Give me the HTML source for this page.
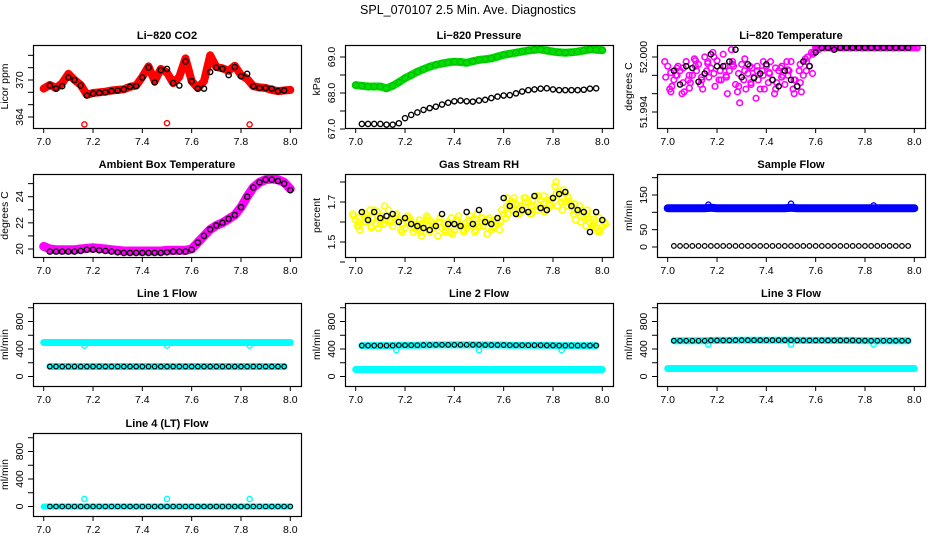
<!DOCTYPE html>
<html><head><meta charset="utf-8">
<style>
html,body{margin:0;padding:0;background:#fff;}
svg{display:block;font-family:"Liberation Sans",sans-serif;}
</style></head>
<body>
<svg id="chart" width="936" height="540" viewBox="0 0 936 540">
<text x="468" y="14" text-anchor="middle" font-size="12.5">SPL_070107  2.5 Min. Ave. Diagnostics</text>
</svg>
<script>
// shared x grid: 7.0 .. 8.0 step 0.025 (41 points)
const xTicks = [7.0, 7.2, 7.4, 7.6, 7.8, 8.0];
const xTickLabels = ["7.0", "7.2", "7.4", "7.6", "7.8", "8.0"];
const xStart = 7.0, xStep = 0.025;
const outlierX = [7.165, 7.5, 7.835];

// Li-820 CO2
const co2Red = [368.6,369.2,368.7,369.5,371.0,370.0,369.2,367.6,367.9,368.0,368.1,368.3,368.4,368.5,368.9,369.1,370.5,372.2,369.8,371.8,371.2,369.5,370.5,373.5,369.8,368.7,369.8,374.0,372.1,371.9,371.5,372.3,370.8,370.2,369.0,368.8,368.7,368.4,368.2,368.3,368.4];
const co2Black = [null,369.1,368.6,369.0,370.4,370.0,369.1,367.5,367.8,367.9,368.0,368.2,368.3,368.5,368.9,369.0,370.4,372.0,369.6,371.6,371.8,369.5,369.1,373.0,369.8,368.6,368.6,371.3,372.0,371.8,370.8,372.1,370.6,371.0,369.0,368.7,368.7,368.6,368.2,368.3,null];
const co2Outliers = [362.8, 363.0, 362.8];

// Li-820 Pressure
const presGreen = [68.22,68.20,68.18,68.18,68.18,68.13,68.20,68.30,68.41,68.50,68.59,68.66,68.73,68.78,68.82,68.85,68.87,68.86,68.84,68.88,68.92,68.94,68.96,69.01,69.06,69.09,69.12,69.15,69.18,69.20,69.21,69.18,69.15,69.13,69.12,69.13,69.15,69.18,69.21,69.20,69.19];
const presBlack = [null,67.14,67.14,67.14,67.14,67.12,67.12,67.16,67.30,67.39,67.46,67.53,67.58,67.62,67.68,67.73,67.77,67.79,67.77,67.76,67.79,67.81,67.86,67.90,67.93,67.94,67.99,68.04,68.08,68.10,68.12,68.13,68.10,68.08,68.08,68.08,68.08,68.09,68.12,68.13,null];

// Li-820 Temperature
const tempMagA = [51.9990,51.9975,51.9985,51.9995,51.9980,51.9992,52.0000,51.9988,51.9996,52.0003,51.9985,51.9970,51.9992,51.9982,51.9978,51.9965,51.9990,51.9975,51.9985,51.9970,51.9995,51.9968,51.9980,51.9990,52.0010,52.0010,52.0010,52.0010,52.0010,52.0010,52.0010,52.0010,52.0010,52.0010,52.0010,52.0010,52.0010,52.0010,52.0010,52.0010,52.0010];
const tempMagB = [51.9965,51.9980,51.9960,51.9975,51.9998,51.9970,51.9985,52.0005,51.9975,51.9990,52.0008,51.9962,51.9975,51.9990,51.9955,51.9985,51.9972,51.9960,51.9988,51.9995,51.9965,51.9985,51.9998,52.0005,52.0010,52.0010,52.0010,52.0010,52.0010,52.0010,52.0010,52.0010,52.0010,52.0010,52.0010,52.0010,52.0010,52.0010,52.0010,52.0010,52.0010];
const tempMagC = [51.9978,51.9968,51.9990,51.9962,51.9972,51.9985,51.9965,51.9978,51.9968,51.9975,51.9960,51.9990,51.9950,51.9965,51.9988,51.9975,51.9965,51.9995,51.9972,51.9980,51.9985,51.9975,51.9962,52.0000,52.0005,52.0010,52.0010,52.0010,52.0010,52.0010,52.0010,52.0010,52.0010,52.0010,52.0010,52.0010,52.0010,52.0010,52.0010,52.0010,52.0010];
const tempMagD = [51.9983,51.9988,51.9972,51.9980,51.9990,51.9978,51.9993,51.9982,51.9985,51.9980,51.9992,51.9982,51.9985,51.9972,51.9985,51.9980,51.9983,51.9988,51.9978,51.9986,51.9975,51.9992,51.9985,51.9982,52.0008,52.0010,52.0010,52.0010,52.0010,52.0010,52.0010,52.0010,52.0010,52.0010,52.0010,52.0010,52.0010,52.0010,52.0010,52.0010,52.0010];
const tempMagE = [51.9995,51.9962,51.9980,51.9988,51.9966,51.9996,51.9975,51.9995,52.0000,51.9985,51.9978,51.9995,51.9968,51.9998,51.9970,51.9990,51.9995,51.9982,51.9965,51.9990,51.9980,51.9960,51.9972,51.9995,52.0003,52.0010,52.0010,52.0010,52.0010,52.0010,52.0010,52.0010,52.0010,52.0010,52.0010,52.0010,52.0010,52.0010,52.0010,52.0010,52.0010];
const tempBlack = [null,51.9985,51.9970,51.9990,51.9988,51.9973,51.9982,52.0003,51.9990,51.9990,51.9995,52.0008,51.9978,51.9992,51.9977,51.9982,51.9992,51.9975,51.9968,51.9985,51.9975,51.9968,51.9995,51.9990,52.0005,52.0010,52.0010,52.0008,52.0010,52.0010,52.0010,52.0010,52.0010,52.0010,52.0010,52.0010,52.0010,52.0010,52.0010,52.0010,null];

// Ambient box temperature
const ambMag = [20.2,20.0,19.95,19.95,19.95,19.95,20.0,20.05,20.1,20.05,20.0,19.95,19.9,19.85,19.85,19.85,19.85,19.85,19.85,19.85,19.9,19.9,19.9,19.9,20.0,20.5,21.0,21.5,21.8,22.0,22.3,22.6,23.2,24.0,24.7,25.1,25.3,25.35,25.3,25.1,24.6];
const ambBlack = [null,19.8,19.8,19.8,19.8,19.8,19.85,19.95,19.95,19.9,19.85,19.8,19.75,19.7,19.7,19.7,19.7,19.7,19.7,19.7,19.75,19.8,19.8,19.8,19.95,20.5,21.0,21.5,21.8,22.0,22.3,22.6,23.2,24.0,24.7,25.1,25.3,25.3,25.2,25.0,24.5];

// Gas stream RH
const rhYelA = [1.61,1.64,1.62,1.66,1.60,1.63,1.58,1.61,1.57,1.60,1.56,1.59,1.55,1.58,1.57,1.60,1.56,1.59,1.57,1.61,1.58,1.60,1.56,1.59,1.64,1.67,1.69,1.66,1.70,1.68,1.71,1.66,1.72,1.75,1.70,1.68,1.65,1.62,1.60,1.57,1.58];
const rhYelB = [1.58,1.60,1.66,1.59,1.63,1.66,1.62,1.56,1.62,1.55,1.61,1.57,1.60,1.53,1.59,1.55,1.60,1.58,1.61,1.55,1.62,1.54,1.60,1.56,1.62,1.70,1.64,1.72,1.64,1.73,1.67,1.69,1.78,1.70,1.73,1.64,1.68,1.58,1.64,1.55,1.60];
const rhYelC = [1.63,1.56,1.60,1.62,1.57,1.68,1.60,1.64,1.59,1.62,1.58,1.53,1.62,1.57,1.62,1.58,1.54,1.63,1.59,1.58,1.64,1.58,1.62,1.61,1.66,1.64,1.72,1.68,1.66,1.71,1.73,1.65,1.71,1.68,1.76,1.70,1.61,1.66,1.62,1.60,1.56];
const rhYelD = [1.60,1.62,1.58,1.63,1.61,1.60,1.63,1.59,1.60,1.58,1.59,1.61,1.58,1.60,1.55,1.62,1.58,1.56,1.60,1.59,1.60,1.57,1.58,1.60,1.68,1.66,1.67,1.70,1.68,1.66,1.69,1.71,1.74,1.72,1.68,1.66,1.63,1.64,1.58,1.62,1.59];
const rhYelE = [1.64,1.58,1.64,1.57,1.65,1.59,1.61,1.63,1.55,1.63,1.57,1.55,1.63,1.59,1.60,1.56,1.62,1.61,1.55,1.63,1.56,1.62,1.61,1.57,1.60,1.72,1.70,1.64,1.72,1.64,1.66,1.73,1.68,1.80,1.66,1.72,1.69,1.60,1.66,1.59,1.55];
const rhBlack = [null,1.65,1.61,1.65,1.62,1.63,1.64,1.60,1.62,1.59,1.58,1.57,1.56,1.58,1.64,1.59,1.59,1.58,1.65,1.59,1.66,1.60,1.59,1.62,1.72,1.68,1.64,1.66,1.65,1.73,1.67,1.66,1.72,1.74,1.75,1.68,1.66,1.65,1.55,1.65,1.61];

// Sample flow
const sfBlue = [112,112,112,112,112,112,112,113,112,112,112,112,112,112,112,112,112,112,112,112,113,112,112,112,112,112,112,112,112,112,112,112,112,112,112,112,112,112,112,112,112];
const sfBlack = [null,3,3,3,3,3,3,3,3,3,3,3,3,3,3,3,3,3,3,3,3,3,3,3,3,3,3,3,3,3,3,3,3,3,3,3,3,3,3,3,null];
const sfOutliers = [122, 125, 120];

// Line 1 flow
const l1CyanHigh = [495,495,495,495,495,495,495,495,495,495,495,495,495,495,495,495,495,495,495,495,495,495,495,495,495,495,495,495,495,495,495,495,495,495,495,495,495,495,495,495,495];
const l1Black = [null,145,145,145,145,145,145,145,145,145,145,145,145,145,145,145,145,145,145,145,145,145,145,145,145,145,145,145,145,145,145,145,145,145,145,145,145,145,145,145,null];
const l1Outliers = [450, 450, 450];
// Line 2 flow
const l2CyanLow = [102,102,102,102,102,102,102,102,102,102,102,102,102,102,102,102,102,102,102,102,102,102,102,102,102,102,102,102,102,102,102,102,102,102,102,102,102,102,102,102,102];
const l2Black = [null,450,450,450,450,450,450,455,455,455,455,458,458,460,460,460,460,460,460,460,460,458,458,458,458,455,455,455,455,455,455,452,452,450,450,450,450,450,450,450,null];
const l2Outliers = [383, 383, 383];
// Line 3 flow
const l3CyanLow = [116,116,116,116,116,116,116,116,116,116,116,116,116,116,116,116,116,116,116,116,116,116,116,116,116,116,116,116,116,116,116,116,116,116,116,116,116,116,116,116,116];
const l3Black = [null,520,520,520,520,520,520,525,525,525,525,528,528,528,528,528,528,528,528,528,528,525,525,525,525,525,525,525,525,525,525,522,522,520,520,520,520,520,520,520,null];
const l3Outliers = [465, 465, 465];
// Line 4 flow
const l4Cyan = [0,0,0,0,0,0,0,0,0,0,0,0,0,0,0,0,0,0,0,0,0,0,0,0,0,0,0,0,0,0,0,0,0,0,0,0,0,0,0,0,0];
const l4Black = [null,0,0,0,0,0,0,0,0,0,0,0,0,0,0,0,0,0,0,0,0,0,0,0,0,0,0,0,0,0,0,0,0,0,0,0,0,0,0,0,0];
const l4Outliers = [110, 110, 110];

const NS = "http://www.w3.org/2000/svg";
const svg = document.getElementById("chart");
const colL = [33, 345, 657];
const rowT = [45, 174, 303, 433];
const BW = 268, BH = 83;

function mk(tag, attrs, parent) {
  const e = document.createElementNS(NS, tag);
  for (const k in attrs) e.setAttribute(k, attrs[k]);
  parent.appendChild(e);
  return e;
}
function xAt(i) { return xStart + i * xStep; }

function panel(slug, title, ylab, col, row, v1, r1, v2, r2, yTicks, yLabels) {
  const L = colL[col], T = rowT[row];
  const g = mk("g", {}, svg);
  
  
  const xs = v => L + 10.7 + (v - 7.0) * (BW - 21.4);
  const ys = v => T + r1 + (v - v1) * (r2 - r1) / (v2 - v1);
  const cp = mk("clipPath", {id: "clip-" + slug}, g);
  mk("rect", {x: L, y: T, width: BW, height: BH}, cp);
  const plot = mk("g", {"clip-path": "url(#clip-" + slug + ")"}, g);
  
  
  const box = mk("rect", {x: L + 0.5, y: T + 0.5, width: BW, height: BH, fill: "none", stroke: "#000", "stroke-width": 1.2}, g);
  
  
  const t = mk("text", {x: L + BW / 2, y: T - 6, "text-anchor": "middle", "font-size": 11, "font-weight": "bold"}, g);
  t.textContent = title;
  
  
  const xa = mk("g", {}, g);
  
  
  mk("line", {x1: xs(xTicks[0]), x2: xs(xTicks[xTicks.length - 1]), y1: T + BH + 0.5, y2: T + BH + 0.5, stroke: "#000"}, xa);
  xTicks.forEach((v, i) => {
    mk("line", {x1: xs(v), x2: xs(v), y1: T + BH, y2: T + BH + 5, stroke: "#000"}, xa);
    const lb = mk("text", {x: xs(v), y: T + BH + 17, "text-anchor": "middle", "font-size": 10.5}, xa);
    lb.textContent = xTickLabels[i];
    
    
  });
  const ya = mk("g", {}, g);
  
  
  yTicks.forEach(v => {
    mk("line", {x1: L - 5, x2: L, y1: ys(v), y2: ys(v), stroke: "#000"}, ya);
  });
  yLabels.forEach(v => {
    const yy = ys(v[0]);
    const lb = mk("text", {x: L - 10, y: yy, "text-anchor": "middle", "font-size": 10.5, transform: "rotate(-90 " + (L - 10) + " " + yy + ")"}, ya);
    lb.textContent = v[1];
    
    
  });
  const yt = mk("text", {x: L - 25, y: T + BH / 2, "text-anchor": "middle", "font-size": 10.5, transform: "rotate(-90 " + (L - 25) + " " + (T + BH / 2) + ")"}, g);
  yt.textContent = ylab;
  
  
  return {plot, xs, ys};
}

function band(p, arr, color, width, name) {
  const pts = [];
  arr.forEach((v, i) => { if (v !== null) pts.push(p.xs(xAt(i)).toFixed(1) + "," + p.ys(v).toFixed(1)); });
  const pl = mk("polyline", {points: pts.join(" "), fill: "none", stroke: color, "stroke-width": width, "stroke-linejoin": "round", "stroke-linecap": "round"}, p.plot);
  
  
}
function pts(p, arr, color, name, r, sw, off) {
  const g = mk("g", {}, p.plot);
  
  
  arr.forEach((v, i) => {
    if (v === null) return;
    const c = mk("circle", {cx: p.xs(xAt(i)) + (off || 0), cy: p.ys(v), r: r || 2.6, fill: "none", stroke: color, "stroke-width": sw || 1.4}, g);
    
    
  });
}
function outl(p, vals, color, name) {
  const g = mk("g", {}, p.plot);
  
  
  vals.forEach((v, i) => {
    const c = mk("circle", {cx: p.xs(outlierX[i]), cy: p.ys(v), r: 2.6, fill: "none", stroke: color, "stroke-width": 1.4}, g);
    
    
  });
}

const RED = "#ff0000", GREEN = "#00e000", MAG = "#ff00ff", YEL = "#ffff00", BLUE = "#0000ff", CYAN = "#00ffff";

let p = panel("co2", "Li\u2212820 CO2", "Licor ppm", 0, 0, 370, 35, 364, 72, [374,372,370,368,366,364], [[370,"370"],[364,"364"]]);
band(p, co2Red, RED, 8, "co2-red-series");
pts(p, co2Red, RED, "co2-red-points", 3);
pts(p, co2Black, "#000", "co2-black-series");
outl(p, co2Outliers, RED, "co2-outliers");

p = panel("pressure", "Li\u2212820 Pressure", "kPa", 1, 0, 69, 12, 68, 48, [69,68.5,68,67.5,67], [[69,"69.0"],[68,"68.0"],[67,"67.0"]]);
band(p, presGreen, GREEN, 8, "pressure-green-series");
pts(p, presGreen, "#00b000", "pressure-green-points", 3, 0.8);
pts(p, presBlack, "#000", "pressure-black-series");

p = panel("li820-temp", "Li\u2212820 Temperature", "degrees C", 2, 0, 52.000, 12, 51.994, 67, [52.000,51.998,51.996,51.994], [[52.000,"52.000"],[51.994,"51.994"]]);
pts(p, tempMagA, MAG, "temp-magenta-series-a", 2.8, 1.6);
pts(p, tempMagB, MAG, "temp-magenta-series-b", 2.8, 1.6, 2);
pts(p, tempMagC, MAG, "temp-magenta-series-c", 2.8, 1.6, -2);
pts(p, tempMagD, MAG, "temp-magenta-series-d", 2.8, 1.6, 3);
pts(p, tempMagE, MAG, "temp-magenta-series-e", 2.8, 1.6, -3);
band(p, tempMagA.map((v, i) => i >= 24 ? v : null), MAG, 6, "temp-magenta-flat");
pts(p, tempBlack, "#000", "temp-black-series");

p = panel("ambient-temp", "Ambient Box Temperature", "degrees C", 0, 1, 20, 75, 24, 22.7, [20,21,22,23,24,25], [[20,"20"],[22,"22"],[24,"24"]]);
band(p, ambMag, MAG, 9, "ambient-magenta-series");
pts(p, ambBlack, "#000", "ambient-black-series");

p = panel("rh", "Gas Stream RH", "percent", 1, 1, 1.7, 28, 1.5, 68, [1.8,1.7,1.6,1.5,1.4], [[1.7,"1.7"],[1.5,"1.5"]]);
pts(p, rhYelA, YEL, "rh-yellow-series-a", 3, 1.6);
pts(p, rhYelB, YEL, "rh-yellow-series-b", 3, 1.6, 2);
pts(p, rhYelC, YEL, "rh-yellow-series-c", 3, 1.6, -2);
pts(p, rhYelD, YEL, "rh-yellow-series-d", 3, 1.6, 3);
pts(p, rhYelE, YEL, "rh-yellow-series-e", 3, 1.6, -3);
pts(p, rhBlack, "#000", "rh-black-series");

p = panel("sample-flow", "Sample Flow", "ml/min", 2, 1, 0, 73, 150, 21, [0,50,100,150,200], [[0,"0"],[50,"50"],[150,"150"]]);
band(p, sfBlue, BLUE, 8, "sample-flow-blue-series");
outl(p, sfOutliers, BLUE, "sample-flow-outliers");
pts(p, sfBlack, "#000", "sample-flow-black-series", 2.3, 1.2);

const flowTicks = [0,200,400,600,800,1000];
const flowLabels = [[0,"0"],[400,"400"],[800,"800"]];
p = panel("line1-flow", "Line 1 Flow", "ml/min", 0, 2, 0, 73.5, 800, 18.5, flowTicks, flowLabels);
band(p, l1CyanHigh, CYAN, 7, "line1-cyan-series");
outl(p, l1Outliers, CYAN, "line1-outliers");
band(p, l1Black, CYAN, 7, "line1-cyan-low");
pts(p, l1Black, "#000", "line1-black-series", 2.3, 1.2);

p = panel("line2-flow", "Line 2 Flow", "ml/min", 1, 2, 0, 73.5, 800, 18.5, flowTicks, flowLabels);
band(p, l2CyanLow, CYAN, 7, "line2-cyan-series");
band(p, l2Black, CYAN, 7, "line2-cyan-high");
outl(p, l2Outliers, CYAN, "line2-outliers");
pts(p, l2Black, "#000", "line2-black-series", 2.3, 1.2);

p = panel("line3-flow", "Line 3 Flow", "ml/min", 2, 2, 0, 73.5, 800, 18.5, flowTicks, flowLabels);
band(p, l3CyanLow, CYAN, 7, "line3-cyan-series");
band(p, l3Black, CYAN, 7, "line3-cyan-high");
outl(p, l3Outliers, CYAN, "line3-outliers");
pts(p, l3Black, "#000", "line3-black-series", 2.3, 1.2);

p = panel("line4-flow", "Line 4 (LT) Flow", "ml/min", 0, 3, 0, 73.5, 800, 18.5, flowTicks, flowLabels);
band(p, l4Cyan, CYAN, 6, "line4-cyan-series");
outl(p, l4Outliers, CYAN, "line4-outliers");
pts(p, l4Black, "#000", "line4-black-series", 2.3, 1.2);
</script>
</body></html>
